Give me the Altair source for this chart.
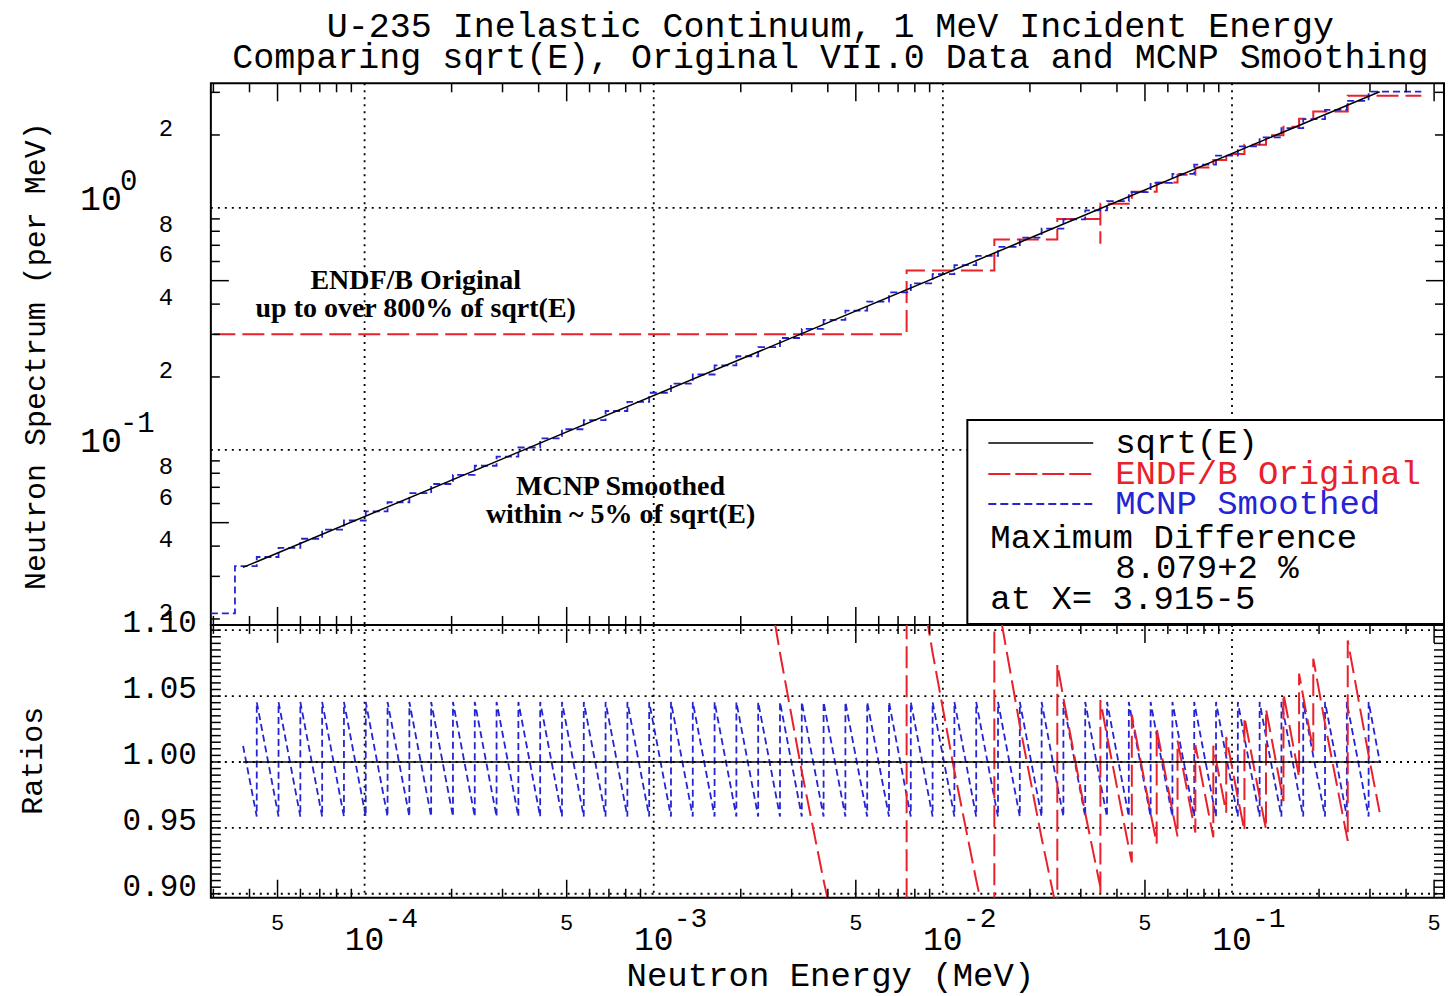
import math
import altair as alt
import pandas as pd

# ---------------- values ----------------
# sqrt(E) reference curve: end points (MeV, per MeV)
SQRT_E = [3.8e-5, 0.324]
SQRT_V = [0.03267, 3.0168]

# MCNP smoothed histogram: bin edges (MeV)
MCNP_EDGES = [2.94e-5, 3.562e-5, 4.237e-5, 5.040e-5, 5.996e-5, 7.133e-5, 8.485e-5,
              1.0094e-4, 1.2008e-4, 1.4285e-4, 1.6993e-4, 2.0215e-4, 2.4048e-4,
              2.8608e-4, 3.4032e-4, 4.0484e-4, 4.8160e-4, 5.7292e-4, 6.8154e-4,
              8.1076e-4, 9.6448e-4, 1.1474e-3, 1.3649e-3, 1.6237e-3, 1.9315e-3,
              2.2977e-3, 2.7334e-3, 3.2516e-3, 3.8681e-3, 4.6015e-3, 5.4740e-3,
              6.5118e-3, 7.7465e-3, 9.2152e-3, 1.0962e-2, 1.3041e-2, 1.5514e-2,
              1.8455e-2, 2.1954e-2, 2.6117e-2, 3.1068e-2, 3.6959e-2, 4.3966e-2,
              5.2302e-2, 6.2219e-2, 7.4015e-2, 8.8049e-2, 0.10474, 0.12460,
              0.14823, 0.17633, 0.20976, 0.24953, 0.29684, 0.4515]
MCNP_FIRST_VALUE = 0.0211     # leftmost bin (per MeV)
MCNP_EDGE_RATIO = 1.0455      # smoothed / sqrt(E) at the start of each later bin

# ENDF/B original histogram
ENDF_EDGES = [3.0e-5, 7.493e-3, 0.015066, 0.024878, 0.035048, 0.03506, 0.045034,
              0.054895, 0.064803, 0.074699, 0.086177, 0.095518, 0.11041, 0.13108,
              0.15066, 0.17061, 0.19103, 0.25135, 0.4515]
ENDF_VALUES = [0.300, 0.551, 0.740, 0.898, 0.717, 1.039, 1.165, 1.273, 1.371,
               1.467, 1.575, 1.669, 1.821, 1.996, 2.164, 2.336, 2.498, 2.902]

# axes
X_DOMAIN = [2.94e-5, 0.541]
Y_TOP_DOMAIN = [0.0189, 3.27]
Y_RATIO_DOMAIN = [0.897, 1.104]
X_DECADES = [1e-4, 1e-3, 1e-2, 1e-1]
X_DECADE_EXP = ["-4", "-3", "-2", "-1"]
X_FIVES = [5e-5, 5e-4, 5e-3, 5e-2, 5e-1]
Y_TOP_DIGIT_VALUES = [2, 0.8, 0.6, 0.4, 0.2, 0.08, 0.06, 0.04, 0.02]
Y_TOP_DIGIT_LABELS = ["2", "8", "6", "4", "2", "8", "6", "4", "2"]
Y_TOP_DECADES = [1, 0.1]
Y_TOP_DECADE_EXP = ["0", "-1"]
Y_RATIO_VALUES = [1.10, 1.05, 1.00, 0.95, 0.90]
Y_RATIO_LABELS = ["1.10", "1.05", "1.00", "0.95", "0.90"]

XT_MINOR = [m * 10.0 ** n for n in range(-5, 0) for m in (2, 3, 4, 6, 7, 8, 9)
            if X_DOMAIN[0] <= m * 10.0 ** n <= X_DOMAIN[1]]
XT_MAJOR = X_FIVES
YT_TOP_MINOR = [m * 10.0 ** n for n in (-2, -1, 0) for m in (2, 3, 4, 6, 7, 8, 9)
                if Y_TOP_DOMAIN[0] <= m * 10.0 ** n <= Y_TOP_DOMAIN[1]]
YT_TOP_MAJOR = [0.05, 0.5]
YT_RATIO = [round(0.9 + 0.005 * i, 3) for i in range(41)]

# ---------------- derived tables ----------------
P = math.log(SQRT_V[1] / SQRT_V[0]) / math.log(SQRT_E[1] / SQRT_E[0])


def ref(e):
    return SQRT_V[0] * (e / SQRT_E[0]) ** P


MCNP_VALUES = [MCNP_FIRST_VALUE] + [MCNP_EDGE_RATIO * ref(e) for e in MCNP_EDGES[1:-1]]


def step_frame(edges, values):
    rows = []
    for i, v in enumerate(values):
        rows.append({"e": edges[i], "v": v, "o": 2 * i})
        rows.append({"e": edges[i + 1], "v": v, "o": 2 * i + 1})
    return pd.DataFrame(rows)


GRID = sorted(set(SQRT_E + [e for e in MCNP_EDGES + ENDF_EDGES if SQRT_E[0] < e < SQRT_E[1]]))


def value_at(edges, values, e, side):
    for i, v in enumerate(values):
        lo, hi = edges[i], edges[i + 1]
        if (side == "right" and lo <= e < hi) or (side == "left" and lo < e <= hi):
            return v
    return None


def ratio_frame(edges, values):
    rows = []
    for j, e in enumerate(GRID):
        a = value_at(edges, values, e, "left")
        b = value_at(edges, values, e, "right")
        if j == 0:
            a = b
        if j == len(GRID) - 1:
            b = a
        r = ref(e)
        rows.append({"e": e, "v": a / r, "o": len(rows)})
        if b != a:
            rows.append({"e": e, "v": b / r, "o": len(rows)})
    return pd.DataFrame(rows)


# ---------------- chart ----------------
W, H1, H2 = 1234, 542, 273
RED = "#e8212b"
BLUE = "#2424d4"
MONO = "Liberation Mono"
SERIF = "Liberation Serif"
ONE = pd.DataFrame({"d": [0]})


def X():
    return alt.X("e:Q", scale=alt.Scale(type="log", domain=X_DOMAIN, nice=False), axis=None)


def Y1():
    return alt.Y("v:Q", scale=alt.Scale(type="log", domain=Y_TOP_DOMAIN, nice=False), axis=None)


def Y2():
    return alt.Y("v:Q", scale=alt.Scale(type="linear", domain=Y_RATIO_DOMAIN, nice=False,
                                        zero=False), axis=None)


def fr(col, vals):
    return pd.DataFrame({col: vals})


def dotted_grid_x():
    return alt.Chart(fr("e", X_DECADES)).mark_rule(
        color="black", strokeWidth=1.8, strokeDash=[2, 5]).encode(x=X())


def dotted_grid_y(vals, Y):
    return alt.Chart(fr("v", vals)).mark_rule(
        color="black", strokeWidth=1.8, strokeDash=[2, 5]).encode(y=Y())


def xticks(vals, length, H):
    base = alt.Chart(fr("e", vals)).mark_rule(color="black", strokeWidth=1.5)
    return [base.encode(x=X(), y=alt.value(0), y2=alt.value(length)),
            base.encode(x=X(), y=alt.value(H), y2=alt.value(H - length))]


def yticks(vals, length, Y):
    base = alt.Chart(fr("v", vals)).mark_rule(color="black", strokeWidth=1.5)
    return [base.encode(y=Y(), x=alt.value(0), x2=alt.value(length)),
            base.encode(y=Y(), x=alt.value(W), x2=alt.value(W - length))]


def text(t, x, y, size, font=MONO, color="black", **kw):
    return alt.Chart(ONE).mark_text(text=t, font=font, fontSize=size, color=color, **kw).encode(
        x=alt.value(x), y=alt.value(y))


def hline(x1, x2, y, color, dash=None, width=2):
    kw = {"strokeDash": dash} if dash else {}
    return alt.Chart(ONE).mark_rule(color=color, strokeWidth=width, **kw).encode(
        x=alt.value(x1), x2=alt.value(x2), y=alt.value(y))


# ---- top panel
top_layers = [
    dotted_grid_x(),
    dotted_grid_y(Y_TOP_DECADES, Y1),
    alt.Chart(step_frame(ENDF_EDGES, ENDF_VALUES)).mark_line(
        color=RED, strokeWidth=2, strokeDash=[22, 7], clip=True).encode(x=X(), y=Y1(), order="o:Q"),
    alt.Chart(step_frame(MCNP_EDGES, MCNP_VALUES)).mark_line(
        color=BLUE, strokeWidth=1.8, strokeDash=[7, 4], clip=True).encode(x=X(), y=Y1(), order="o:Q"),
    alt.Chart(pd.DataFrame({"e": SQRT_E, "v": SQRT_V})).mark_line(
        color="black", strokeWidth=1.5, clip=True).encode(x=X(), y=Y1()),
]
top_layers += xticks(XT_MINOR, 9, H1) + xticks(XT_MAJOR, 18, H1)
top_layers += yticks(YT_TOP_MINOR, 9, Y1) + yticks(YT_TOP_MAJOR, 18, Y1)

# legend box
top_layers += [
    alt.Chart(ONE).mark_rect(fill="white", stroke="black", strokeWidth=2).encode(
        x=alt.value(757), x2=alt.value(W), y=alt.value(337), y2=alt.value(541)),
    hline(778, 883, 360, "black", width=1.6),
    hline(778, 883, 391, RED, dash=[22, 5]),
    hline(778, 883, 421, BLUE, dash=[8, 4], width=1.8),
    text("sqrt(E)", 905, 360, 34, align="left", baseline="middle"),
    text("ENDF/B Original", 905, 391, 34, color=RED, align="left", baseline="middle"),
    text("MCNP Smoothed", 905, 421, 34, color=BLUE, align="left", baseline="middle"),
    text("Maximum Difference", 780, 455, 34, align="left", baseline="middle"),
    text("8.079+2 %", 905, 485, 34, align="left", baseline="middle"),
    text("at X= 3.915-5", 780, 516, 34, align="left", baseline="middle"),
]

# annotations
top_layers += [
    text("ENDF/B Original", 205, 198, 28, font=SERIF, fontWeight="bold", align="center", baseline="middle"),
    text("up to over 800% of sqrt(E)", 205, 226, 28, font=SERIF, fontWeight="bold",
         align="center", baseline="middle"),
    text("MCNP Smoothed", 410, 404, 28, font=SERIF, fontWeight="bold", align="center", baseline="middle"),
    text("within ~ 5% of sqrt(E)", 410, 432, 28, font=SERIF, fontWeight="bold",
         align="center", baseline="middle"),
]

# y labels (top panel), titles and a transparent extent anchor
top_layers += [
    alt.Chart(pd.DataFrame({"v": Y_TOP_DIGIT_VALUES, "t": Y_TOP_DIGIT_LABELS})).mark_text(
        font=MONO, fontSize=24, align="center", baseline="middle", dy=-6).encode(
        y=Y1(), x=alt.value(-45), text="t:N"),
    alt.Chart(pd.DataFrame({"v": Y_TOP_DECADES, "t": ["10", "10"]})).mark_text(
        font=MONO, fontSize=35, align="right", baseline="middle", dy=-9).encode(
        y=Y1(), x=alt.value(-89), text="t:N"),
    alt.Chart(pd.DataFrame({"v": Y_TOP_DECADES, "t": Y_TOP_DECADE_EXP})).mark_text(
        font=MONO, fontSize=29, align="left", baseline="middle", dy=-27).encode(
        y=Y1(), x=alt.value(-91), text="t:N"),
    text("Neutron Spectrum (per MeV)", -175, 273, 30, angle=270, align="center", baseline="middle"),
    text("U-235 Inelastic Continuum, 1 MeV Incident Energy", 620, -46, 35,
         align="center", baseline="alphabetic"),
    text("Comparing sqrt(E), Original VII.0 Data and MCNP Smoothing", 620, -15, 35,
         align="center", baseline="alphabetic"),
    alt.Chart(ONE).mark_rule(opacity=0).encode(
        x=alt.value(-202), x2=alt.value(-201), y=alt.value(-74), y2=alt.value(-73)),
]

top = alt.layer(*top_layers).properties(width=W, height=H1)

# ---- ratio panel
bot_layers = [
    dotted_grid_x(),
    dotted_grid_y(Y_RATIO_VALUES, Y2),
    alt.Chart(ratio_frame(MCNP_EDGES, MCNP_VALUES)).mark_line(
        color=BLUE, strokeWidth=1.8, strokeDash=[7, 4], clip=True).encode(x=X(), y=Y2(), order="o:Q"),
    alt.Chart(ratio_frame(ENDF_EDGES, ENDF_VALUES)).mark_line(
        color=RED, strokeWidth=2, strokeDash=[22, 7], clip=True).encode(x=X(), y=Y2(), order="o:Q"),
    alt.Chart(pd.DataFrame({"e": SQRT_E, "v": [1.0, 1.0]})).mark_line(
        color="black", strokeWidth=1.5, clip=True).encode(x=X(), y=Y2()),
]
bot_layers += xticks(XT_MINOR, 9, H2) + xticks(XT_MAJOR, 18, H2)
bot_layers += yticks(YT_RATIO, 10, Y2)
bot_layers += [
    alt.Chart(pd.DataFrame({"v": Y_RATIO_VALUES, "t": Y_RATIO_LABELS})).mark_text(
        font=MONO, fontSize=31, align="right", baseline="middle", dy=-7).encode(
        y=Y2(), x=alt.value(-14), text="t:N"),
    alt.Chart(pd.DataFrame({"e": X_FIVES, "t": ["5"] * len(X_FIVES)})).mark_text(
        font=MONO, fontSize=22, align="center", baseline="middle").encode(
        x=X(), y=alt.value(H2 + 25), text="t:N"),
    alt.Chart(pd.DataFrame({"e": X_DECADES, "t": ["10"] * len(X_DECADES)})).mark_text(
        font=MONO, fontSize=33, align="center", baseline="middle").encode(
        x=X(), y=alt.value(H2 + 42), text="t:N"),
    alt.Chart(pd.DataFrame({"e": X_DECADES, "t": X_DECADE_EXP})).mark_text(
        font=MONO, fontSize=28, align="left", baseline="middle", dx=20).encode(
        x=X(), y=alt.value(H2 + 21), text="t:N"),
    text("Ratios", -178, 136, 30, angle=270, align="center", baseline="middle"),
    text("Neutron Energy (MeV)", 620, H2 + 88, 34, align="center", baseline="alphabetic"),
]

bottom = alt.layer(*bot_layers).properties(width=W, height=H2)

chart = alt.vconcat(top, bottom, spacing=0, bounds="flush").properties(
    padding={"left": 0, "right": 0, "top": 0, "bottom": 0}
).configure_view(stroke="black", strokeWidth=2)

chart.save("out.html", embed_options={"renderer": "svg", "actions": False})
